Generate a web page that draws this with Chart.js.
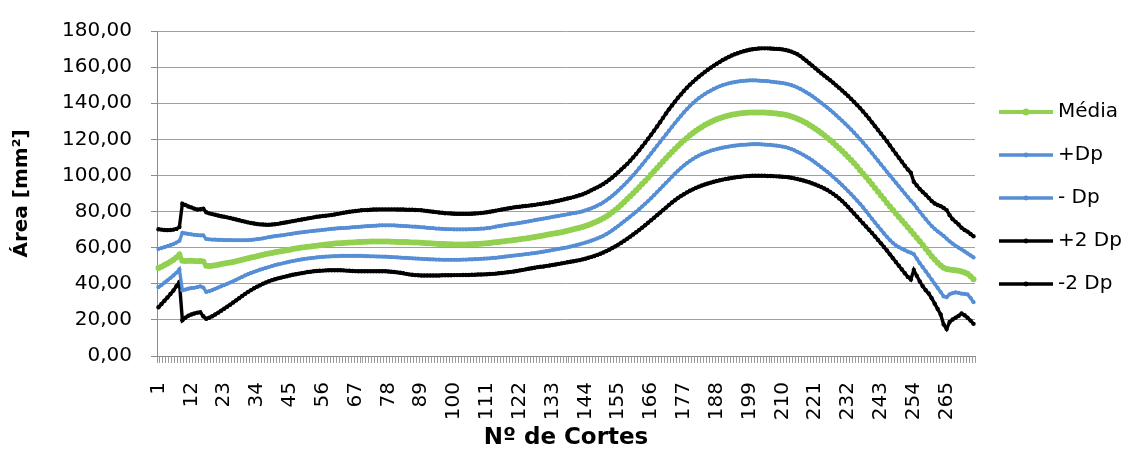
<!DOCTYPE html>
<html>
<head>
<meta charset="utf-8">
<script src="https://cdn.jsdelivr.net/npm/chart.js@4.4.1/dist/chart.umd.min.js"></script>
<style>
html,body{margin:0;padding:0;background:#fff;}
#wrap{width:1127px;height:450px;}
</style>
</head>
<body>
<div id="wrap"><canvas id="c" width="1127" height="450"></canvas></div>
<script>
const categories = Array.from({length: 274}, (_, i) => String(i + 1));
const tickLabels = ['1','12','23','34','45','56','67','78','89','100','111','122','133','144','155','166','177','188','199','210','221','232','243','254','265'];
const yTicks = [0, 20, 40, 60, 80, 100, 120, 140, 160, 180];
const seriesNames = ['Média', '+Dp', '- Dp', '+2 Dp', '-2 Dp'];

const media = [
48.7,49.5,50.4,51.3,52.2,53.3,54.6,56.2,52.8,52.6,
52.7,52.8,52.6,52.5,52.6,52.4,50.0,49.8,50.0,50.3,
50.6,50.9,51.2,51.5,51.8,52.1,52.5,52.9,53.3,53.7,
54.1,54.5,54.9,55.3,55.7,56.1,56.5,56.8,57.1,57.4,
57.7,58.0,58.3,58.6,58.9,59.2,59.5,59.8,60.1,60.3,
60.5,60.7,60.9,61.1,61.3,61.5,61.7,61.9,62.1,62.3,
62.4,62.5,62.6,62.7,62.8,62.9,63.0,63.1,63.2,63.3,
63.3,63.4,63.4,63.4,63.4,63.4,63.4,63.4,63.3,63.3,
63.2,63.2,63.1,63.1,63.0,62.9,62.9,62.8,62.7,62.6,
62.5,62.4,62.3,62.2,62.1,62.0,62.0,61.9,61.9,61.8,
61.8,61.8,61.8,61.8,61.9,61.9,62.0,62.1,62.2,62.3,
62.4,62.6,62.8,63.0,63.2,63.4,63.6,63.8,64.0,64.2,
64.4,64.6,64.9,65.1,65.4,65.6,65.9,66.2,66.5,66.8,
67.1,67.4,67.7,68.0,68.3,68.6,69.0,69.4,69.8,70.2,
70.6,71.0,71.5,72.0,72.6,73.2,73.9,74.6,75.4,76.3,
77.3,78.4,79.6,80.9,82.3,83.8,85.3,86.9,88.5,90.1,
91.8,93.5,95.2,96.9,98.7,100.5,102.3,104.1,105.9,107.7,
109.5,111.3,113.0,114.7,116.3,117.9,119.4,120.8,122.2,123.5,
124.7,125.8,126.9,127.9,128.8,129.6,130.4,131.1,131.7,132.3,
132.8,133.2,133.6,133.9,134.2,134.4,134.6,134.7,134.8,134.9,
134.9,134.9,134.9,134.8,134.7,134.6,134.5,134.3,134.1,133.9,
133.6,133.2,132.7,132.1,131.4,130.7,129.9,129.0,128.0,127.0,
125.9,124.7,123.5,122.2,120.9,119.5,118.1,116.6,115.1,113.5,
111.9,110.2,108.5,106.8,105.0,102.9,101.0,99.1,97.1,95.1,
93.0,91.0,88.9,86.9,84.8,82.8,80.8,78.9,77.0,75.1,
73.2,71.3,69.4,67.5,65.5,63.5,61.5,59.4,57.3,55.3,
53.4,51.7,50.1,48.9,48.2,47.9,47.7,47.5,47.2,46.8,
46.3,45.5,44.2,42.5
];

const maisDp = [
59.3,59.8,60.3,60.8,61.4,62.0,62.8,63.8,68.2,67.9,
67.6,67.4,67.1,66.9,66.8,66.8,64.8,64.6,64.5,64.4,
64.3,64.3,64.2,64.2,64.2,64.1,64.1,64.1,64.1,64.1,
64.2,64.3,64.5,64.7,64.9,65.2,65.5,65.8,66.1,66.4,
66.6,66.8,67.0,67.3,67.5,67.8,68.0,68.3,68.5,68.7,
68.9,69.1,69.3,69.5,69.6,69.8,70.0,70.2,70.4,70.5,
70.7,70.8,70.9,71.0,71.1,71.3,71.4,71.5,71.6,71.8,
71.9,72.0,72.1,72.2,72.3,72.4,72.4,72.4,72.4,72.3,
72.2,72.1,72.0,71.9,71.8,71.7,71.6,71.5,71.3,71.2,
71.0,70.9,70.8,70.6,70.5,70.4,70.3,70.2,70.2,70.1,
70.1,70.1,70.1,70.1,70.2,70.2,70.3,70.4,70.5,70.6,
70.8,71.0,71.3,71.6,71.9,72.2,72.5,72.8,73.0,73.2,
73.4,73.7,74.0,74.3,74.6,74.9,75.2,75.5,75.8,76.1,
76.4,76.7,77.0,77.3,77.6,77.9,78.2,78.5,78.8,79.1,
79.4,79.7,80.1,80.6,81.2,81.8,82.5,83.3,84.1,85.1,
86.2,87.4,88.7,90.1,91.6,93.2,94.8,96.5,98.3,100.1,
102.0,104.0,106.0,108.0,110.1,112.2,114.3,116.4,118.5,120.6,
122.7,124.8,126.9,129.0,131.0,133.0,134.9,136.7,138.4,140.0,
141.5,142.8,144.0,145.1,146.1,147.0,147.9,148.7,149.4,150.0,
150.5,151.0,151.4,151.7,152.0,152.2,152.4,152.5,152.6,152.6,
152.6,152.5,152.4,152.3,152.2,152.0,151.8,151.6,151.4,151.2,
150.9,150.5,150.0,149.4,148.7,147.9,147.0,146.0,145.0,143.9,
142.7,141.5,140.2,138.9,137.6,136.2,134.8,133.3,131.8,130.3,
128.7,127.1,125.4,123.7,121.9,120.1,118.2,116.3,114.3,112.3,
110.2,108.2,106.1,104.1,102.0,100.0,98.0,96.0,94.0,92.0,
90.0,88.0,86.0,84.3,82.0,79.9,77.8,75.8,73.8,72.0,
70.4,69.0,67.8,66.5,65.0,63.5,62.2,61.0,60.0,59.0,
57.9,56.8,55.7,54.6
];

const menosDp = [
38.1,39.3,40.6,41.9,43.2,44.6,46.1,48.0,36.4,36.8,
37.3,37.6,37.8,38.2,38.6,37.9,35.5,35.9,36.5,37.2,
37.9,38.6,39.3,40.0,40.7,41.4,42.2,43.0,43.8,44.6,
45.3,46.0,46.6,47.2,47.8,48.3,48.8,49.3,49.8,50.3,
50.7,51.1,51.5,51.9,52.3,52.6,52.9,53.2,53.5,53.8,
54.0,54.2,54.4,54.6,54.8,54.9,55.0,55.1,55.2,55.3,
55.3,55.4,55.4,55.4,55.4,55.4,55.4,55.4,55.4,55.3,
55.3,55.2,55.2,55.1,55.1,55.0,55.0,54.9,54.8,54.7,
54.6,54.5,54.4,54.3,54.2,54.1,54.0,53.9,53.8,53.7,
53.6,53.5,53.5,53.4,53.4,53.3,53.3,53.3,53.3,53.3,
53.3,53.3,53.4,53.4,53.5,53.5,53.6,53.7,53.8,53.9,
54.0,54.1,54.3,54.4,54.6,54.8,55.0,55.2,55.4,55.6,
55.8,56.0,56.2,56.4,56.6,56.8,57.0,57.2,57.5,57.8,
58.1,58.4,58.7,59.0,59.3,59.6,59.9,60.2,60.6,61.0,
61.4,61.8,62.3,62.8,63.3,63.9,64.5,65.1,65.8,66.6,
67.5,68.5,69.6,70.8,72.0,73.3,74.6,75.9,77.2,78.5,
79.9,81.3,82.8,84.3,85.8,87.4,89.1,90.8,92.5,94.2,
95.9,97.6,99.3,101.0,102.6,104.1,105.5,106.8,108.0,109.1,
110.1,111.0,111.8,112.5,113.1,113.7,114.2,114.6,115.0,115.4,
115.7,116.0,116.3,116.5,116.7,116.9,117.0,117.1,117.2,117.3,
117.3,117.3,117.2,117.1,117.0,116.9,116.7,116.5,116.3,116.0,
115.7,115.2,114.6,113.9,113.1,112.3,111.4,110.4,109.4,108.3,
107.1,105.9,104.6,103.3,102.0,100.6,99.2,97.7,96.2,94.6,
93.0,91.3,89.6,87.9,86.1,84.3,82.3,80.2,78.1,76.0,
73.9,71.9,69.9,67.9,66.0,64.2,62.6,61.3,60.3,59.4,
58.6,57.8,57.2,56.4,53.9,51.4,49.2,46.9,44.6,42.3,
40.0,37.7,35.4,33.0,32.6,34.2,34.8,35.2,35.0,34.5,
34.4,34.1,32.2,29.8
];

const mais2Dp = [
70.2,70.0,69.8,69.7,69.8,70.0,70.4,71.4,84.3,83.6,
82.8,82.3,81.6,81.1,81.3,81.6,79.6,79.0,78.6,78.2,
77.8,77.4,77.1,76.8,76.4,76.0,75.6,75.2,74.8,74.4,
74.0,73.7,73.4,73.1,72.9,72.8,72.7,72.7,72.8,73.0,
73.2,73.5,73.8,74.1,74.4,74.7,75.0,75.3,75.6,75.9,
76.2,76.5,76.8,77.1,77.3,77.5,77.7,77.9,78.1,78.4,
78.7,79.0,79.3,79.6,79.9,80.1,80.3,80.5,80.7,80.8,
80.9,81.0,81.1,81.1,81.2,81.2,81.2,81.2,81.2,81.2,
81.1,81.1,81.1,81.0,81.0,81.0,80.9,80.8,80.7,80.5,
80.3,80.1,79.9,79.7,79.5,79.3,79.1,79.0,78.9,78.8,
78.7,78.7,78.7,78.7,78.7,78.8,78.9,79.0,79.2,79.4,
79.6,79.9,80.2,80.5,80.8,81.1,81.4,81.7,82.0,82.3,
82.5,82.7,82.9,83.1,83.3,83.5,83.7,84.0,84.2,84.5,
84.7,85.0,85.3,85.7,86.0,86.4,86.8,87.2,87.6,88.0,
88.5,89.0,89.5,90.2,91.0,91.8,92.6,93.4,94.3,95.3,
96.4,97.6,98.9,100.3,101.8,103.3,104.8,106.4,108.1,110.0,
111.9,113.9,116.0,118.1,120.3,122.5,124.8,127.1,129.5,131.9,
134.3,136.6,138.8,140.9,143.0,144.9,146.8,148.6,150.2,151.8,
153.3,154.7,156.0,157.3,158.5,159.7,160.8,161.9,162.9,163.9,
164.8,165.6,166.4,167.1,167.7,168.3,168.8,169.2,169.6,169.9,
170.1,170.3,170.4,170.4,170.4,170.3,170.2,170.1,170.0,169.8,
169.5,169.1,168.6,167.9,167.1,166.1,164.8,163.5,162.1,160.8,
159.4,158.0,156.6,155.3,154.0,152.7,151.3,149.9,148.5,147.0,
145.5,144.0,142.4,140.7,139.0,137.3,135.4,133.5,131.5,129.4,
127.3,125.2,123.1,121.0,118.9,116.6,114.3,112.0,109.8,107.6,
105.4,103.3,101.5,96.5,94.5,92.5,90.8,89.3,87.6,85.8,
84.5,83.6,83.0,82.0,80.8,78.0,75.8,74.3,72.8,71.0,
69.8,68.9,67.6,66.3
];

const menos2Dp = [
27.0,28.8,30.6,32.4,34.3,36.3,38.6,41.0,19.8,21.2,
22.3,23.0,23.5,24.0,24.2,22.0,20.6,21.2,22.0,23.0,
24.0,25.1,26.2,27.3,28.4,29.6,30.8,32.0,33.2,34.4,
35.5,36.5,37.5,38.4,39.2,40.0,40.7,41.4,42.0,42.5,
43.0,43.4,43.8,44.2,44.6,45.0,45.3,45.6,45.9,46.2,
46.5,46.7,46.9,47.1,47.2,47.3,47.4,47.5,47.5,47.5,
47.5,47.5,47.4,47.3,47.2,47.1,47.0,46.9,46.9,46.9,
46.9,46.9,46.9,46.9,46.9,46.9,46.9,46.8,46.7,46.5,
46.3,46.1,45.8,45.5,45.2,45.0,44.8,44.7,44.6,44.6,
44.6,44.6,44.6,44.6,44.6,44.7,44.7,44.7,44.7,44.8,
44.8,44.8,44.9,44.9,44.9,45.0,45.0,45.1,45.1,45.2,
45.3,45.4,45.5,45.6,45.8,46.0,46.2,46.4,46.6,46.8,
47.1,47.4,47.7,48.0,48.3,48.6,48.9,49.2,49.4,49.6,
49.9,50.1,50.4,50.7,51.0,51.3,51.6,51.9,52.2,52.5,
52.8,53.1,53.5,53.9,54.4,54.9,55.4,56.0,56.6,57.3,
58.1,58.9,59.8,60.7,61.7,62.7,63.8,64.9,66.1,67.3,
68.5,69.8,71.1,72.4,73.8,75.2,76.6,78.0,79.4,80.8,
82.2,83.6,85.0,86.3,87.5,88.6,89.6,90.6,91.5,92.3,
93.1,93.8,94.4,95.0,95.5,96.0,96.5,96.9,97.3,97.7,
98.0,98.3,98.6,98.9,99.1,99.3,99.5,99.6,99.7,99.8,
99.8,99.8,99.8,99.8,99.7,99.7,99.6,99.5,99.4,99.3,
99.2,99.0,98.7,98.4,98.0,97.6,97.2,96.7,96.2,95.6,
95.0,94.3,93.6,92.8,91.9,90.9,89.8,88.6,87.3,85.8,
84.2,82.5,80.7,78.9,77.1,75.3,73.5,71.7,69.9,68.1,
66.2,64.3,62.4,60.4,58.4,56.3,54.2,52.1,50.0,47.9,
45.8,43.8,42.4,47.6,44.4,41.3,38.6,36.4,34.6,32.0,
29.0,26.0,23.0,17.5,15.0,18.8,20.2,21.2,22.2,23.5,
22.6,21.2,19.6,17.8
];

const GREEN = '#92D050';
const BLUE = '#558ED5';
const BLACK = '#000000';
const FONT = 'DejaVu Sans';

function legendIcon(color, lineW, r) {
  const c = document.createElement('canvas');
  c.width = 80; c.height = 14;
  const g = c.getContext('2d');
  g.strokeStyle = color; g.lineWidth = lineW; g.lineCap = 'butt';
  g.beginPath(); g.moveTo(16, 7); g.lineTo(70, 7); g.stroke();
  g.fillStyle = color;
  g.beginPath(); g.arc(43, 7, r, 0, Math.PI * 2); g.fill();
  return c;
}
const icons = [
  legendIcon(GREEN, 4.2, 3.5),
  legendIcon(BLUE, 3.4, 2.4),
  legendIcon(BLUE, 3.4, 2.4),
  legendIcon(BLACK, 3.4, 2.4),
  legendIcon(BLACK, 3.4, 2.4)
];

function ds(label, data, color, bw, pr) {
  return {
    label, data,
    borderColor: color, backgroundColor: color,
    pointBackgroundColor: color, pointBorderColor: color,
    borderWidth: bw, pointRadius: pr, pointBorderWidth: 0,
    pointHoverRadius: pr, tension: 0, fill: false
  };
}

new Chart(document.getElementById('c'), {
  type: 'line',
  data: {
    labels: categories,
    datasets: [
      ds(seriesNames[0], media, GREEN, 4.6, 3.0),
      ds(seriesNames[1], maisDp, BLUE, 3.3, 2.1),
      ds(seriesNames[2], menosDp, BLUE, 3.3, 2.1),
      ds(seriesNames[3], mais2Dp, BLACK, 3.4, 2.2),
      ds(seriesNames[4], menos2Dp, BLACK, 3.4, 2.2)
    ]
  },
  options: {
    responsive: false,
    animation: false,
    devicePixelRatio: 1,
    layout: { padding: { top: 27, left: 0, right: 0, bottom: 0 } },
    font: { family: FONT },
    plugins: {
      tooltip: { enabled: false },
      legend: {
        position: 'right',
        align: 'center',
        fullSize: false,
        maxWidth: 152,
        title: { display: true, text: '', padding: 0, font: { size: 7.5 } },
        labels: {
          usePointStyle: true,
          pointStyleWidth: 50,
          padding: 23,
          color: '#000',
          font: { family: FONT, size: 20 },
          generateLabels: (chart) => chart.data.datasets.map((d, i) => ({
            text: d.label,
            pointStyle: icons[i],
            fillStyle: d.borderColor,
            strokeStyle: d.borderColor,
            lineWidth: 0,
            hidden: false,
            datasetIndex: i,
            fontColor: '#000'
          }))
        }
      }
    },
    scales: {
      x: {
        type: 'category',
        offset: true,
        afterFit: (s) => { s.height = 94; },
        grid: { display: true, drawOnChartArea: false, drawTicks: true, tickLength: 7, offset: true, color: '#9a9a9a', lineWidth: 1 },
        border: { display: true, color: '#8c8c8c', width: 1 },
        ticks: {
          autoSkip: false, maxRotation: 90, minRotation: 90, padding: 19,
          color: '#000', font: { family: FONT, size: 20 },
          callback: function(value, index) {
            const lab = categories[index];
            return tickLabels.includes(lab) ? lab : '';
          }
        },
        title: {
          display: true, text: 'Nº de Cortes', color: '#000',
          font: { family: FONT, size: 23, weight: 'bold', lineHeight: 1 },
          padding: { top: 0, bottom: 0 }
        }
      },
      y: {
        min: 0, max: 180,
        afterFit: (s) => { s.width = 157; },
        afterBuildTicks: (s) => { s.ticks = yTicks.map(v => ({ value: v })); },
        grid: { color: '#a0a0a0', lineWidth: 1, drawTicks: true, tickLength: 6, tickColor: '#8c8c8c' },
        border: { display: true, color: '#8c8c8c', width: 1 },
        ticks: {
          padding: 19, color: '#000', font: { family: FONT, size: 20 },
          callback: (v) => Number(v).toFixed(2).replace('.', ',')
        },
        title: {
          display: true, text: 'Área [mm²]', color: '#000',
          font: { family: FONT, size: 20, weight: 'bold' },
          padding: { top: 10, bottom: 0 }
        }
      }
    }
  }
});
</script>
</body>
</html>
